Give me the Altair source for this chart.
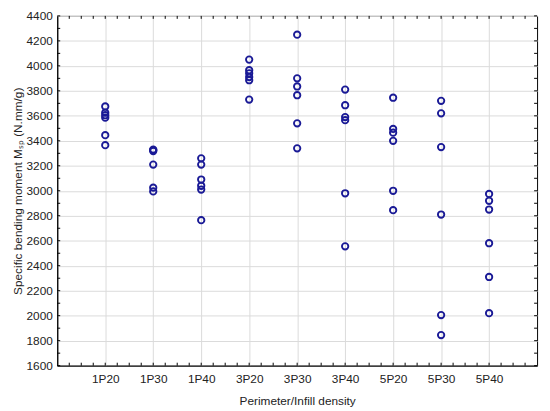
import altair as alt
import pandas as pd
import numpy as np

categories = ["1P20", "1P30", "1P40", "3P20", "3P30", "3P40", "5P20", "5P30", "5P40"]
v_1P20 = [3675, 3625, 3605, 3585, 3445, 3365]
v_1P30 = [3330, 3325, 3318, 3210, 3025, 2995]
v_1P40 = [3260, 3210, 3090, 3040, 3010, 2765]
v_3P20 = [4050, 3965, 3940, 3910, 3885, 3730]
v_3P30 = [4250, 3900, 3835, 3765, 3540, 3340]
v_3P40 = [3810, 3685, 3590, 3565, 2980, 2555]
v_5P20 = [3745, 3495, 3465, 3400, 3000, 2845]
v_5P30 = [3720, 3620, 3350, 2810, 2005, 1845]
v_5P40 = [2975, 2920, 2850, 2580, 2310, 2020]
groups = [v_1P20, v_1P30, v_1P40, v_3P20, v_3P30, v_3P40, v_5P20, v_5P30, v_5P40]

y_ticks = list(range(1600, 4401, 200))
y_minor = list(range(1600, 4401, 100))

rows = []
for i, (cat, vals) in enumerate(zip(categories, groups)):
    for v in vals:
        rows.append({"xi": i + 1, "cat": cat, "val": v})
df = pd.DataFrame(rows)

W, H = 487, 355
label_expr = "[" + ",".join("'%s'" % c for c in [""] + categories + [""]) + "][datum.value]"

def X(field="xi"):
    return alt.X(field + ":Q",
                 scale=alt.Scale(domain=[0, 10], nice=False, zero=False),
                 axis=alt.Axis(values=list(range(1, 10)), labelExpr=label_expr,
                               title="Perimeter/Infill density", ticks=False,
                               grid=True, labelPadding=8, titlePadding=11))

def Y(field="val"):
    return alt.Y(field + ":Q",
                 scale=alt.Scale(domain=[1600, 4400], nice=False, zero=False),
                 axis=alt.Axis(values=y_ticks, format="d",
                               title="Specific bending moment M\u209b\u209a (N.mm/g)",
                               ticks=False, grid=True, labelPadding=5, titlePadding=2))

points = alt.Chart(df).mark_point(shape="circle", filled=False, size=42,
                                  strokeWidth=1.9, color="#1a1a96", opacity=1).encode(
    x=X(), y=Y())

# inward ticks on the frame
ytick_df = pd.DataFrame({"val": y_minor})
xtick_df = pd.DataFrame({"xi": [q / 4 for q in range(1, 40)]})

ytl = alt.Chart(ytick_df).mark_rule(color="black", strokeWidth=1).encode(
    y=Y(), x=alt.value(0), x2=alt.value(3))
ytr = alt.Chart(ytick_df).mark_rule(color="black", strokeWidth=1).encode(
    y=Y(), x=alt.value(W), x2=alt.value(W - 3))
xtb = alt.Chart(xtick_df).mark_rule(color="black", strokeWidth=1).encode(
    x=X(), y=alt.value(H), y2=alt.value(H - 3))
xtt = alt.Chart(xtick_df).mark_rule(color="black", strokeWidth=1).encode(
    x=X(), y=alt.value(0), y2=alt.value(3))

chart = alt.layer(xtb, xtt, ytl, ytr, points).properties(
    width=W, height=H,
    autosize=alt.AutoSizeParams(type="none"),
    padding={"left": 50, "top": 5, "right": 5, "bottom": 43},
    background="white",
).configure_view(stroke="black", strokeWidth=1).configure_axis(
    domain=True, domainColor="black", domainWidth=1,
    gridColor="#dadada", gridWidth=1,
    labelFont="Liberation Sans", labelFontSize=12, labelColor="#222222",
    titleFont="Liberation Sans", titleFontSize=12, titleFontWeight="normal", titleColor="#222222",
)

chart.save("out.html", embed_options={"renderer": "svg", "actions": False})
